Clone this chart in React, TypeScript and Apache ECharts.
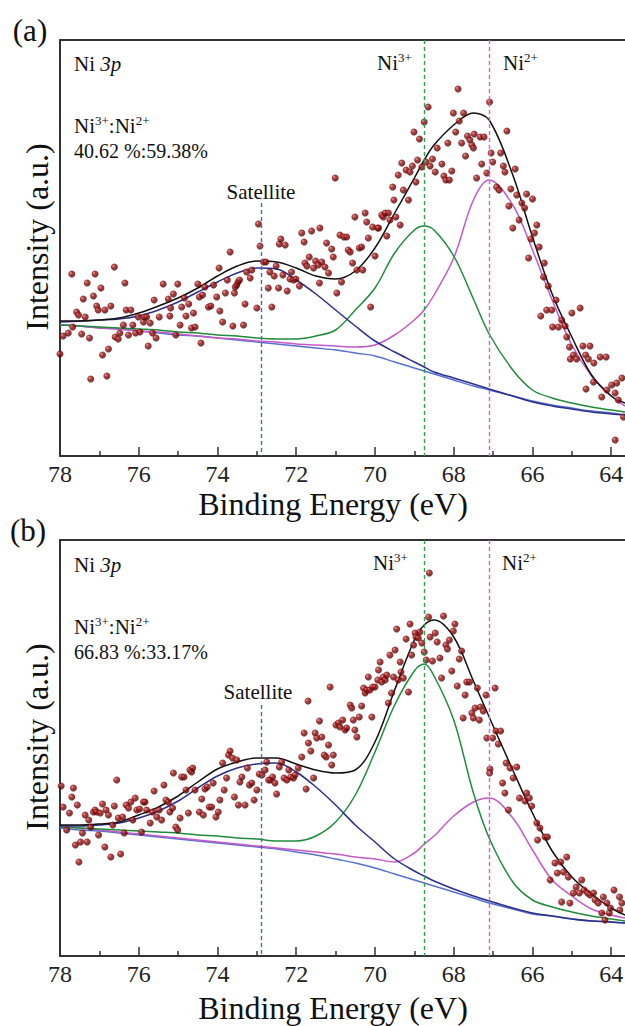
import React, { useEffect, useRef } from "react";
import * as echarts from "echarts";

// ---------- DATA ----------
const energyGrid = [78, 77.5, 77, 76.5, 76, 75.5, 75, 74.5, 74, 73.5, 73, 72.5, 72, 71.5, 71, 70.5, 70, 69.5, 69, 68.75, 68.5, 68, 67.5, 67.1, 66.5, 66, 65.5, 65, 64.5, 64, 63.65];

// panel (a) fitted curves
const envelopeA = [135, 135, 136, 138, 143, 150, 158, 168, 180, 190, 195, 194, 188, 180, 177, 185, 208, 243, 278, 296, 311, 331, 343, 336, 281, 219, 162, 119, 81, 60, 53];
const satelliteA = [134, 135, 136, 137, 140, 146, 154, 164, 174, 183, 188, 187, 176, 162, 146, 130, 115, 104, 94, 89, 84, 78, 72, 67, 60, 54, 50, 47, 44, 42, 41];
const ni3A = [131, 130, 129, 128, 127, 126, 124, 123, 121, 120, 118, 117, 117, 120, 126, 146, 168, 203, 226, 230, 226, 200, 157, 122, 86, 66, 58, 53, 49, 46, 44];
const ni2A = [131, 130, 128, 127, 125, 124, 122, 120, 118, 117, 115, 114, 112, 111, 110, 109, 111, 121, 136, 146, 161, 198, 256, 276, 251, 206, 156, 111, 80, 60, 50];
const backgroundA = [131, 130, 128, 127, 125, 123, 121, 120, 118, 116, 114, 112, 110, 108, 106, 103, 100, 94, 88, 85, 82, 76, 70, 66, 60, 55, 51, 48, 45, 43, 41];

// panel (b) fitted curves
const envelopeB = [131, 131, 132, 134, 141, 149, 160, 174, 187, 194, 198, 198, 192, 186, 183, 186, 214, 266, 316, 331, 336, 319, 275, 239, 186, 143, 105, 79, 62, 48, 41];
const satelliteB = [130, 130, 131, 133, 138, 145, 155, 168, 180, 188, 192, 193, 184, 169, 151, 131, 114, 97, 85, 80, 75, 67, 60, 55, 48, 43, 40, 37, 35, 34, 33];
const ni3B = [129, 128, 127, 126, 125, 124, 123, 121, 120, 118, 117, 115, 115, 120, 134, 161, 204, 251, 285, 292, 280, 236, 163, 118, 74, 56, 49, 44, 40, 37, 35];
const ni2B = [129, 128, 126, 124, 122, 120, 118, 116, 114, 112, 110, 108, 106, 104, 102, 99, 97, 94, 103, 112, 120, 140, 154, 158, 138, 106, 76, 60, 47, 41, 38];
const backgroundB = [128, 126, 125, 123, 121, 119, 117, 115, 113, 111, 109, 107, 104, 101, 97, 93, 88, 82, 76, 73, 70, 64, 58, 53, 47, 42, 40, 37, 35, 34, 33];

// raw data points [binding energy, intensity]
const pointsA = [
  [78.0, 102], [77.92, 120], [77.79, 123], [77.7, 182], [77.68, 129], [77.58, 144], [77.53, 141], [77.45, 122], [77.41, 157], [77.36, 139],
  [77.31, 173], [77.25, 118], [77.22, 77], [77.15, 160], [77.11, 182], [77.07, 150], [77.03, 146], [76.96, 168], [76.92, 101], [76.86, 146],
  [76.81, 80], [76.77, 107], [76.71, 150], [76.62, 189], [76.6, 119], [76.52, 117], [76.48, 123], [76.39, 131], [76.35, 173], [76.32, 146],
  [76.26, 121], [76.2, 146], [76.15, 131], [76.08, 123], [76.01, 139], [75.97, 124], [75.88, 134], [75.86, 139], [75.8, 139], [75.76, 110],
  [75.71, 133], [75.65, 123], [75.61, 156], [75.56, 118], [75.48, 139], [75.38, 172], [75.25, 157], [75.21, 140], [75.19, 148], [75.12, 162],
  [75.06, 121], [75.01, 172], [74.95, 131], [74.91, 149], [74.84, 158], [74.8, 140], [74.73, 152], [74.66, 128], [74.61, 143], [74.57, 129],
  [74.5, 172], [74.46, 159], [74.42, 113], [74.38, 161], [74.32, 169], [74.23, 149], [74.17, 150], [74.1, 171], [74.02, 159], [73.96, 188],
  [73.94, 145], [73.87, 134], [73.8, 163], [73.75, 176], [73.68, 204], [73.61, 130], [73.57, 163], [73.55, 169], [73.51, 171], [73.48, 174],
  [73.44, 176], [73.34, 131], [73.3, 152], [73.26, 184], [73.17, 178], [73.13, 186], [73.0, 148], [72.96, 232], [72.92, 210], [72.83, 194],
  [72.77, 194], [72.71, 168], [72.67, 184], [72.62, 149], [72.56, 180], [72.51, 190], [72.45, 168], [72.43, 212], [72.39, 217], [72.34, 181],
  [72.28, 211], [72.23, 165], [72.16, 177], [72.12, 184], [72.07, 176], [72.01, 177], [71.92, 170], [71.86, 223], [71.8, 214], [71.78, 193],
  [71.73, 190], [71.67, 199], [71.61, 225], [71.56, 188], [71.51, 195], [71.44, 191], [71.41, 173], [71.4, 228],
  [71.35, 194], [71.27, 189], [71.23, 213], [71.18, 183], [71.1, 207], [71.06, 199], [71.01, 278], [70.97, 163], [70.89, 221], [70.85, 174],
  [70.79, 219], [70.72, 219], [70.68, 206], [70.63, 204], [70.57, 193], [70.51, 239], [70.46, 186], [70.4, 208], [70.34, 209], [70.31, 186],
  [70.25, 243], [70.21, 234], [70.17, 218], [70.11, 149], [70.06, 229], [70.0, 200], [69.93, 228], [69.91, 228], [69.83, 241], [69.79, 239],
  [69.74, 243], [69.7, 220], [69.66, 243], [69.62, 236], [69.55, 269], [69.52, 256], [69.47, 239], [69.41, 281], [69.36, 231], [69.32, 293],
  [69.28, 266], [69.21, 286], [69.15, 256], [69.11, 284], [69.05, 290], [69.01, 324], [68.96, 274], [68.92, 296], [68.87, 317], [68.81, 289],
  [68.75, 334], [68.7, 294], [68.65, 349], [68.6, 290], [68.54, 297], [68.47, 284], [68.42, 308],
  [68.3, 292], [68.25, 280], [68.2, 276], [68.15, 313], [68.11, 276], [68.05, 285], [68.01, 343], [67.95, 324], [67.89, 367], [67.86, 335],
  [67.8, 313], [67.75, 343], [67.7, 300], [67.65, 320], [67.59, 316], [67.54, 311], [67.5, 308], [67.48, 322], [67.42, 278], [67.33, 319],
  [67.29, 292], [67.23, 319], [67.16, 283], [67.09, 354], [67.05, 303], [67.01, 294], [66.91, 269], [66.85, 266], [66.81, 303], [66.74, 290],
  [66.7, 284], [66.65, 325], [66.55, 267], [66.44, 287], [66.15, 262], [66.0, 257],
  [66.4, 261], [66.6, 250], [66.27, 253], [66.2, 248], [66.34, 236], [66.5, 228], [65.89, 231], [65.95, 223], [66.04, 217], [65.83, 209],
  [66.1, 198], [65.7, 193], [65.72, 179], [65.6, 170], [65.4, 156], [65.64, 146], [65.79, 140], [65.51, 146], [65.0, 143], [64.79, 148],
  [65.26, 136], [65.34, 129], [65.49, 129], [65.17, 130],
  [65.13, 119], [65.06, 109], [64.96, 101], [65.04, 97], [64.88, 97], [64.72, 110], [64.54, 110], [64.65, 101], [64.58, 97], [64.44, 93],
  [64.28, 99], [64.13, 99], [64.45, 74], [64.64, 67], [64.24, 59], [63.99, 71], [63.86, 73], [63.73, 78], [64.11, 66], [63.9, 63],
  [63.82, 56], [63.69, 39], [63.9, 16]
];

const pointsB = [
  [77.97, 170], [77.92, 149], [77.83, 126], [77.76, 143], [77.7, 159], [77.66, 168], [77.61, 111], [77.56, 151], [77.52, 94], [77.48, 114],
  [77.43, 123], [77.36, 141], [77.31, 114], [77.27, 136], [77.22, 129], [77.15, 144], [77.11, 146], [77.07, 144], [77.02, 121], [76.98, 143],
  [76.92, 152], [76.86, 109], [76.83, 146], [76.77, 141], [76.71, 99], [76.66, 131], [76.62, 150], [76.56, 176], [76.52, 138], [76.46, 102],
  [76.41, 139], [76.37, 123], [76.32, 151], [76.26, 148], [76.2, 154], [76.15, 136], [76.09, 158], [76.05, 146], [75.98, 147], [75.93, 124],
  [75.88, 154], [75.84, 154], [75.8, 146], [75.71, 133], [75.65, 144], [75.61, 165], [75.54, 139], [75.48, 146], [75.42, 136], [75.36, 171],
  [75.31, 156], [75.25, 154], [75.21, 144], [75.14, 148], [75.12, 183], [75.06, 129], [75.01, 126], [74.95, 138], [74.91, 179], [74.85, 179],
  [74.8, 166], [74.74, 143], [74.7, 186], [74.66, 184], [74.63, 188], [74.57, 166], [74.46, 144], [74.4, 157], [74.36, 141], [74.32, 167],
  [74.26, 169], [74.21, 149], [74.15, 149], [74.11, 173], [74.04, 139], [73.98, 144], [73.94, 156], [73.87, 193], [73.83, 166], [73.77, 178],
  [73.72, 201], [73.68, 205], [73.62, 198], [73.57, 159], [73.51, 196], [73.47, 151], [73.43, 174], [73.38, 179], [73.3, 151], [73.24, 188],
  [73.19, 171], [73.13, 173], [73.07, 156], [73.0, 166], [72.94, 182], [72.87, 181], [72.79, 186], [72.75, 194], [72.7, 176], [72.65, 176],
  [72.6, 179], [72.54, 173], [72.5, 162], [72.43, 189], [72.37, 194], [72.31, 178], [72.24, 176], [72.19, 186], [72.14, 179], [72.07, 178],
  [72.03, 181], [71.95, 188], [71.86, 199], [71.8, 223], [71.75, 167], [71.69, 213], [71.63, 205], [71.56, 178], [71.52, 223], [71.48, 218],
  [71.41, 235], [71.7, 255],
  [71.35, 219], [71.29, 201], [71.24, 199], [71.18, 211], [71.14, 269], [71.1, 191], [71.06, 201], [70.99, 231], [70.93, 233], [70.89, 229],
  [70.82, 236], [70.76, 226], [70.72, 228], [70.63, 251], [70.59, 248], [70.55, 236], [70.51, 226], [70.46, 219], [70.4, 239], [70.34, 250],
  [70.29, 268], [70.25, 263], [70.21, 266], [70.17, 279], [70.13, 266], [70.08, 239], [70.06, 269], [70.0, 269], [69.93, 276], [69.91, 286],
  [69.87, 294], [69.83, 274], [69.79, 279], [69.74, 276], [69.7, 281], [69.66, 253], [69.62, 301], [69.58, 263], [69.53, 279], [69.49, 306],
  [69.45, 327], [69.41, 276], [69.36, 294], [69.34, 284], [69.28, 278], [69.21, 317], [69.15, 264], [69.11, 332], [69.07, 301], [69.02, 311],
  [68.98, 323], [68.96, 319], [68.9, 318], [68.86, 324], [68.81, 313], [68.75, 304], [68.7, 296], [68.64, 339], [68.6, 319], [68.54, 295],
  [68.47, 323], [68.42, 314], [68.62, 383],
  [68.26, 340], [67.97, 332], [68.01, 325], [68.2, 311], [68.16, 307], [68.11, 316], [67.8, 305], [68.35, 298], [67.86, 297], [68.05, 285],
  [68.31, 278], [67.91, 270], [67.67, 274], [67.6, 274], [67.4, 268], [66.95, 268], [67.71, 261], [67.18, 261], [67.32, 249], [67.46, 248],
  [67.25, 245], [67.54, 243], [67.5, 238], [67.35, 236], [67.76, 238], [67.16, 218], [67.01, 218], [66.93, 225], [66.81, 225], [66.87, 212],
  [66.67, 193], [66.57, 188], [66.4, 189], [66.49, 178], [67.08, 187], [67.09, 183], [66.76, 173], [66.7, 163], [66.33, 158], [66.15, 163],
  [66.19, 155], [66.08, 158], [66.02, 150], [66.61, 146], [65.89, 133], [65.81, 128],
  [65.68, 119], [65.62, 119], [65.87, 116],
  [65.55, 76], [65.43, 93], [65.37, 83], [65.28, 94], [65.21, 84], [65.13, 99], [65.09, 79], [65.26, 54], [65.05, 53], [64.96, 63],
  [64.89, 69], [64.81, 63], [64.75, 76], [64.69, 66], [64.6, 63], [64.54, 61], [64.45, 63], [64.41, 56], [64.33, 53], [64.2, 59],
  [64.11, 53], [64.24, 43], [64.16, 36], [64.05, 43], [63.93, 66], [63.79, 59], [63.73, 53], [63.78, 46], [64.02, 48]
];

// reference energies for the dashed guide lines
const satellitePos = 72.9;
const ni3Pos = 68.75;
const ni2Pos = 67.1;
const satelliteLineTopA = 253;
const satelliteLineTopB = 251;

const majorTicks = [64, 66, 68, 70, 72, 74, 76, 78];
const minorTicks = [65, 67, 69, 71, 73, 75, 77];
const xMin = 63.65;
const xMax = 78;
const yMax = 416;

const ratioLabelA = "40.62 %:59.38%";
const ratioLabelB = "66.83 %:33.17%";

// ---------- STYLE ----------
const FONT = "Liberation Serif, Times New Roman, serif";
const AXIS_COLOR = "#333";

function pair(xs: number[], ys: number[]) {
  return xs.map((x, i) => [x, ys[i]]);
}

function App() {
  const ref = useRef<HTMLDivElement>(null);

  useEffect(() => {
    if (!ref.current) return;
    const chart = echarts.init(ref.current, null, { renderer: "svg" });

    const sphere = new echarts.graphic.RadialGradient(0.35, 0.35, 0.7, [
      { offset: 0, color: "#e39a9a" },
      { offset: 0.3, color: "#a01414" },
      { offset: 1, color: "#480000" },
    ]);

    const grids = [
      { left: 60, top: 40, width: 565, height: 416, show: false, containLabel: false, outerBoundsMode: "none" },
      { left: 60, top: 540, width: 565, height: 416, show: false, containLabel: false, outerBoundsMode: "none" },
    ];

    const xAxes: any[] = [];
    const yAxes: any[] = [];
    [0, 1].forEach((g) => {
      xAxes.push({
        type: "value", gridIndex: g, position: "bottom", min: xMin, max: xMax, inverse: true,
        axisLine: { show: true, lineStyle: { color: AXIS_COLOR, width: 2 } },
        axisTick: { show: true, inside: true, length: 9, customValues: majorTicks, lineStyle: { color: AXIS_COLOR, width: 1.5 } },
        axisLabel: { show: true, customValues: majorTicks, fontFamily: FONT, fontSize: 24, color: "#222", margin: 6 },
        splitLine: { show: false },
      });
      xAxes.push({
        type: "value", gridIndex: g, position: "bottom", min: xMin, max: xMax, inverse: true,
        axisLine: { show: false },
        axisTick: { show: true, inside: true, length: 5, customValues: minorTicks, lineStyle: { color: AXIS_COLOR, width: 1.5 } },
        axisLabel: { show: false },
        splitLine: { show: false },
      });
      xAxes.push({
        type: "value", gridIndex: g, position: "top", min: xMin, max: xMax, inverse: true,
        axisLine: { show: true, lineStyle: { color: AXIS_COLOR, width: 2 } },
        axisTick: { show: false }, axisLabel: { show: false }, splitLine: { show: false },
      });
      yAxes.push({
        type: "value", gridIndex: g, min: 0, max: yMax,
        axisLine: { show: true, lineStyle: { color: AXIS_COLOR, width: 2 } },
        axisTick: { show: false }, axisLabel: { show: false }, splitLine: { show: false },
      });
    });

    const lineSeries = (name: string, g: number, ys: number[], color: string, width = 1.5) => ({
      name, type: "line", xAxisIndex: g * 3, yAxisIndex: g,
      data: pair(energyGrid, ys), smooth: 0.35, showSymbol: false, symbol: "none",
      lineStyle: { color, width }, z: 2, silent: true,
    });

    const panelSeries = (g: number, d: any) => [
      {
        ...lineSeries("background", g, d.bg, "#5570d0", 1.4),
        markLine: {
          silent: true, symbol: "none", label: { show: false },
          data: [
            [{ coord: [satellitePos, d.satTop], lineStyle: { color: "#5566a8", type: [4, 3], width: 1.4 } }, { coord: [satellitePos, 0] }],
            [{ coord: [ni3Pos, yMax], lineStyle: { color: "#2fa04f", type: [4, 3], width: 1.4 } }, { coord: [ni3Pos, 0] }],
            [{ coord: [ni2Pos, yMax], lineStyle: { color: "#d264d2", type: [4, 3], width: 1.4 } }, { coord: [ni2Pos, 0] }],
          ],
        },
      },
      lineSeries("Ni2+", g, d.ni2, "#c65ac6"),
      lineSeries("Ni3+", g, d.ni3, "#1f8c3c"),
      lineSeries("Satellite", g, d.sat, "#2c2f8c"),
      lineSeries("Envelope", g, d.env, "#111111"),
      {
        name: "Raw", type: "scatter", xAxisIndex: g * 3, yAxisIndex: g, data: d.pts,
        symbol: "circle", symbolSize: 7, itemStyle: { color: sphere }, z: 4, silent: true,
      },
    ];

    const series = [
      ...panelSeries(0, { env: envelopeA, sat: satelliteA, ni3: ni3A, ni2: ni2A, bg: backgroundA, pts: pointsA, satTop: satelliteLineTopA }),
      ...panelSeries(1, { env: envelopeB, sat: satelliteB, ni3: ni3B, ni2: ni2B, bg: backgroundB, pts: pointsB, satTop: satelliteLineTopB }),
    ];

    const txt = (x: number, y: number, text: string, size: number, align = "left", rotation = 0) => ({
      type: "text", x, y, z: 10, rotation,
      style: { text, fontFamily: FONT, fontSize: size, fill: "#111", align, verticalAlign: "middle" },
    });
    const supRich = {
      n: { fontFamily: FONT, fontSize: 21, lineHeight: 24, color: "#111" },
      s: { fontFamily: FONT, fontSize: 13, lineHeight: 24, verticalAlign: "top", color: "#111" },
      i: { fontFamily: FONT, fontSize: 21, lineHeight: 24, fontStyle: "italic", color: "#111" },
    };
    const richTxt = (x: number, y: number, text: string, align = "left") => ({
      type: "text", x, y, z: 10,
      style: { text, rich: supRich, align, verticalAlign: "middle", fill: "#111", fontFamily: FONT },
    });

    const panelGraphics = (dy: number, tag: string, ratio: string, sat: number[], n3: number[], n2: number[], iy: number, by: number, tagPos: number[]) => [
      txt(tagPos[0], tagPos[1], tag, 31, "center"),
      richTxt(74, 64 + dy, "{n|Ni }{i|3p}"),
      richTxt(74, 126 + dy, "{n|Ni}{s|3+}{n|:Ni}{s|2+}"),
      txt(74, 151 + dy, ratio, 20),
      txt(sat[0], sat[1], "Satellite", 21, "center"),
      richTxt(n3[0], n3[1], "{n|Ni}{s|3+}"),
      richTxt(n2[0], n2[1], "{n|Ni}{s|2+}"),
      txt(37, iy, "Intensity (a.u.)", 32, "center", Math.PI / 2),
      txt(333, by, "Binding Energy (eV)", 32, "center"),
    ];

    const graphics: any[] = [
      ...panelGraphics(0, "(a)", ratioLabelA, [261, 192], [377, 63], [503, 63], 237, 504, [30, 30]),
      ...panelGraphics(501, "(b)", ratioLabelB, [258, 692], [373, 563], [502, 563], 737, 1008, [28, 530]),
    ];

    chart.setOption({
      animation: false,
      backgroundColor: "#ffffff",
      textStyle: { fontFamily: FONT },
      grid: grids,
      xAxis: xAxes,
      yAxis: yAxes,
      series,
      graphic: graphics,
    });

    return () => chart.dispose();
  }, []);

  return (
    <div
      ref={ref}
      style={{ position: "absolute", left: 0, top: 0, width: 625, height: 1026, background: "#fff" }}
    />
  );
}

export default App;
